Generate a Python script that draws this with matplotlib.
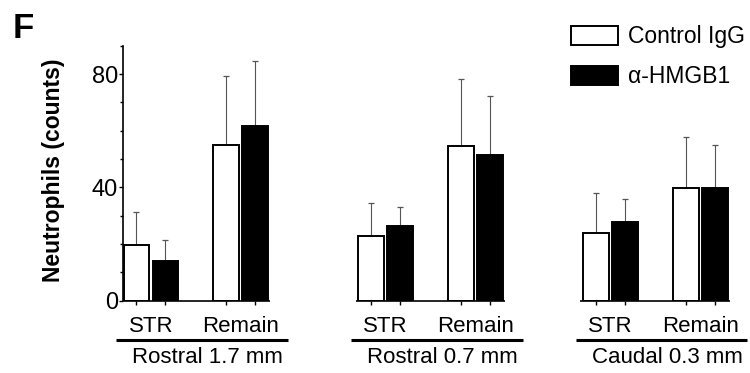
import numpy as np
import matplotlib
matplotlib.use("Agg")
import matplotlib.pyplot as plt
from matplotlib.ticker import MultipleLocator

plt.rcParams['font.family'] = ['Liberation Sans', 'DejaVu Sans']

# ---- data ----
groups = ["Rostral 1.7 mm", "Rostral 0.7 mm", "Caudal 0.3 mm"]
regions = ["STR", "Remain"]
series = ["Control IgG", "\u03b1-HMGB1"]
# values per group: [STR, Remain]
control_mean = [[19.7, 54.8], [22.9, 54.6], [23.8, 39.7]]
control_err = [[11.5, 24.4], [11.7, 23.6], [14.3, 17.9]]
hmgb1_mean = [[14.1, 61.6], [26.4, 51.4], [27.6, 39.9]]
hmgb1_err = [[7.1, 22.9], [6.7, 20.9], [8.3, 15.1]]
yticks_major = [0, 40, 80]

# ---- layout ----
W, H = 750, 373
fig = plt.figure(figsize=(W / 100, H / 100), dpi=100)
px_unit = 29.0              # pixels per x data unit
ax_left_px = 123.0
ax_bottom_px = 300.5
ax_top_px = 45.7
ymax = 90
xlim_left = -0.96
xlim_right = xlim_left + (W - ax_left_px) / px_unit
ax = fig.add_axes([ax_left_px / W, (H - ax_bottom_px) / H,
                   1 - ax_left_px / W, (ax_bottom_px - ax_top_px) / H])
ax.set_xlim(xlim_left, xlim_right)
ax.set_ylim(0, ymax)

group_pos = np.array([0.0, 8.1, 15.85])
pair_off = 3.1
bar_off = 0.5
bw = 0.88

ticks = []
for gi, g in enumerate(groups):
    base = group_pos[gi]
    centers = base + np.array([0, pair_off])
    c_b = ax.bar(centers - bar_off, control_mean[gi], bw, color='white',
                 edgecolor='black', linewidth=1.4, zorder=3, label=series[0])
    h_b = ax.bar(centers + bar_off, hmgb1_mean[gi], bw, color='black',
                 edgecolor='black', linewidth=1.4, zorder=3, label=series[1])
    ax.errorbar(centers - bar_off, control_mean[gi],
                yerr=[np.zeros(2), control_err[gi]], fmt='none',
                ecolor='#555555', elinewidth=0.8, capsize=2, capthick=0.9, zorder=2)
    ax.errorbar(centers + bar_off, hmgb1_mean[gi],
                yerr=[np.zeros(2), hmgb1_err[gi]], fmt='none',
                ecolor='#555555', elinewidth=0.8, capsize=2, capthick=0.9, zorder=2)
    ticks += list(centers - bar_off) + list(centers + bar_off)
    # baseline segment
    x0 = centers[0] - bar_off - bw / 2 - (0.0 if gi == 0 else 0.1)
    x1 = centers[1] + bar_off + bw / 2 + 0.07
    ax.plot([x0, x1], [0, 0], color='black', lw=1.2, clip_on=False, zorder=4,
            solid_capstyle='butt')
    # region labels
    for c, r in zip(centers, regions):
        ax.text(c, -9.3, r, ha='center', va='center', fontsize=16,
                clip_on=False)
    # group line and label
    l0 = centers[0] - 1.2
    l1 = centers[1] + 1.62
    ax.plot([l0, l1], [-14.0, -14.0], color='black', lw=2.2, clip_on=False,
            solid_capstyle='butt')
    ax.text((l0 + l1) / 2 + 0.2, -20.2, g, ha='center', va='center',
            fontsize=16, clip_on=False)
    if gi == 0:
        handles = [c_b, h_b]

ax.set_xticks(ticks)
ax.set_xticklabels([])
ax.tick_params(axis='x', direction='out', length=3, width=1.0, color='black')

ax.set_yticks(yticks_major)
ax.yaxis.set_minor_locator(MultipleLocator(10))
ax.tick_params(axis='y', which='major', direction='out', length=3, width=1.0,
               pad=0.5, labelsize=17)
ax.tick_params(axis='y', which='minor', direction='out', length=2.5, width=1.0)

for s in ['top', 'right', 'bottom']:
    ax.spines[s].set_visible(False)
ax.spines['left'].set_linewidth(1.2)
ax.spines['left'].set_bounds(0, ymax)

fig.text(54 / W, 1 - 170 / H, "Neutrophils (counts)", rotation=90,
         ha='center', va='center', fontsize=16.5, fontweight='bold')
fig.text(23 / W, 1 - 29 / H, "F", ha='center', va='center', fontsize=25,
         fontweight='bold')

leg = ax.legend(handles, series, loc='upper left',
                bbox_to_anchor=(571 / W, 1 - 25 / H),
                bbox_transform=fig.transFigure, frameon=False,
                borderpad=0, borderaxespad=0, handlelength=2.07,
                handleheight=0.9, handletextpad=0.4, labelspacing=0.75,
                fontsize=16.5)

fig.savefig("out.png", dpi=100)
